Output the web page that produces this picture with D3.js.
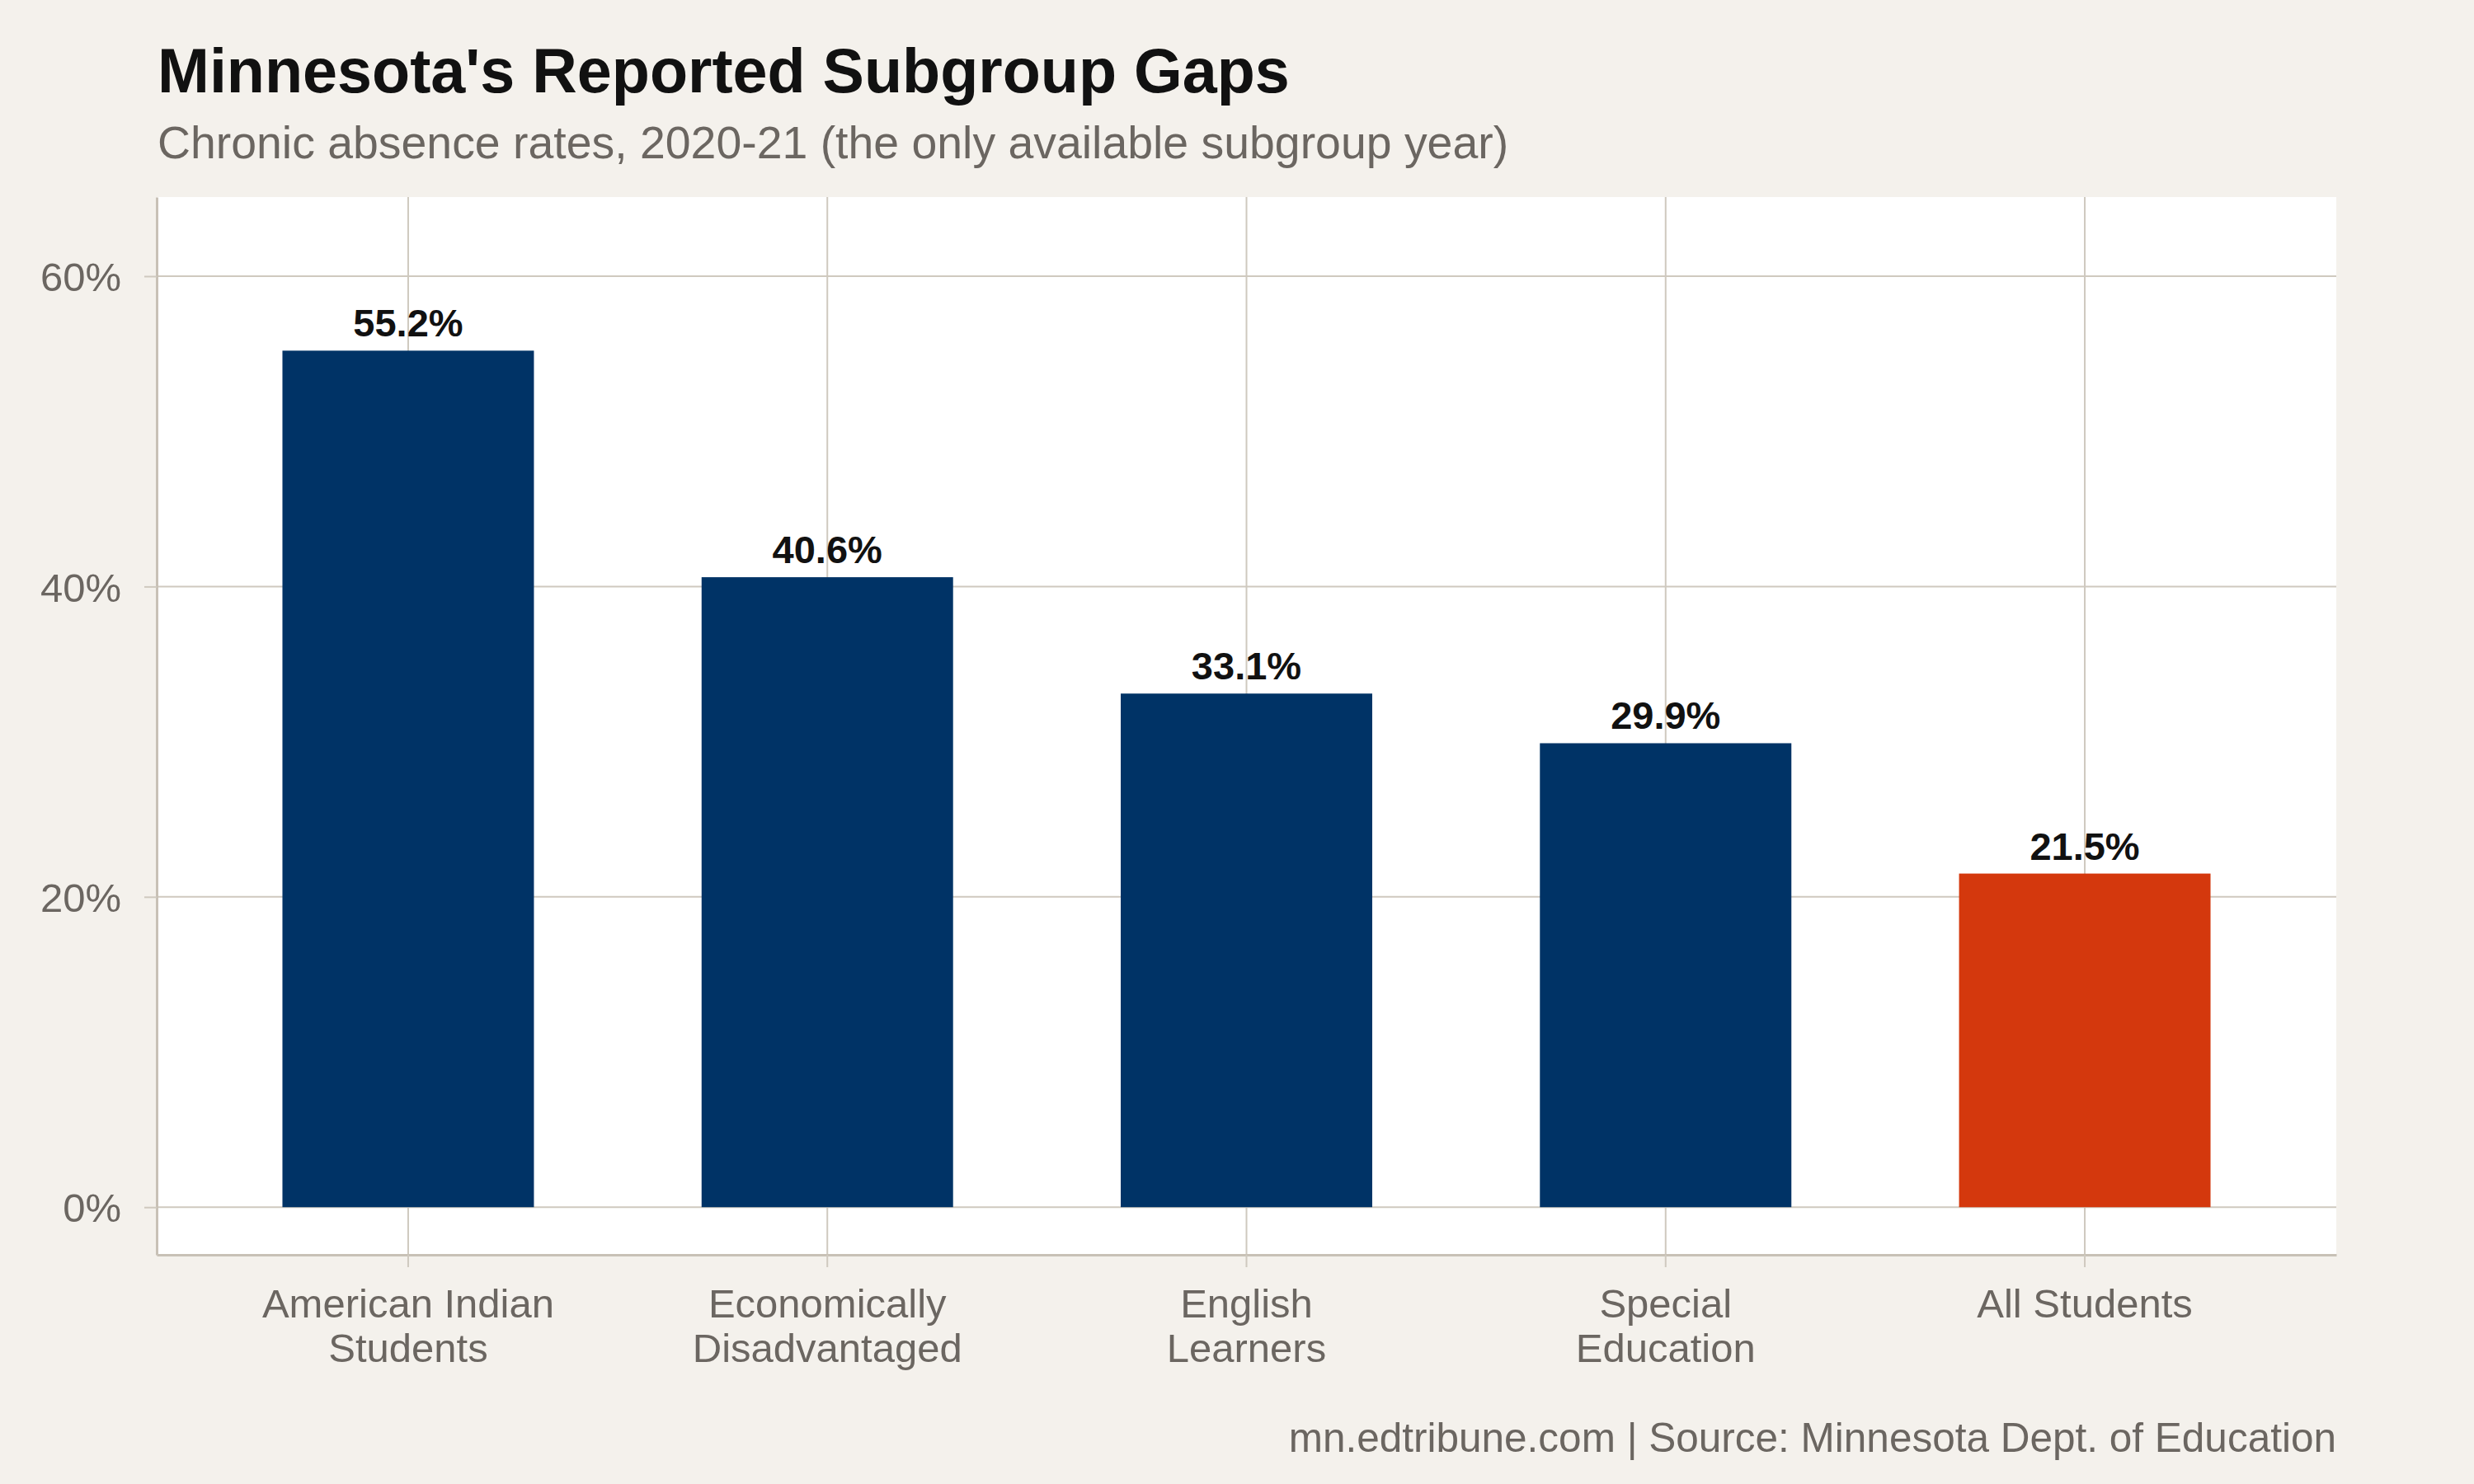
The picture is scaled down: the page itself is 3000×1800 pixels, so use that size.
<!DOCTYPE html>
<html>
<head>
<meta charset="utf-8">
<script src="https://cdn.jsdelivr.net/npm/d3@7"></script>
<style>
    body { margin: 0; background: #f4f1ec; }
    text { font-family: "Liberation Sans", Arial, Helvetica, sans-serif; }
</style>
</head>
<body>
<svg id="chart" width="3000" height="1800"></svg>
<script>
var categories = ["American Indian Students", "Economically Disadvantaged", "English Learners", "Special Education", "All Students"];
var tickLines = [["American Indian", "Students"], ["Economically", "Disadvantaged"], ["English", "Learners"], ["Special", "Education"], ["All Students"]];
var values = [55.2, 40.6, 33.1, 29.9, 21.5];
var yTicks = [0, 20, 40, 60];
var highlight = "All Students";

var title = "Minnesota's Reported Subgroup Gaps";
var subtitle = "Chronic absence rates, 2020-21 (the only available subgroup year)";
var caption = "mn.edtribune.com | Source: Minnesota Dept. of Education";

var svg = d3.select('#chart');

var width = 3000;
var height = 1800;
var margin = { top: 239, left: 190, bottom: 278, right: 167 };
var plotW = width - margin.left - margin.right;
var plotH = height - margin.top - margin.bottom;

var gridColor = "#cfc9bf";
var axisColor = "#c8c1b6";
var textGray = "#6b6661";

svg.append("rect")
    .attr("width", width)
    .attr("height", height)
    .attr("fill", "#f4f1ec");

var x = d3.scaleBand().domain(categories).range([0, plotW]).paddingInner(0.4).paddingOuter(0.3);
var y = d3.scaleLinear().domain([-3.07, 65.1]).range([plotH, 0]);

var g = svg.append("g")
    .attr("transform", "translate(" + [margin.left, margin.top] + ")");

// panel
g.append("rect")
    .attr("width", plotW)
    .attr("height", plotH)
    .attr("fill", "#ffffff");

// grid lines
g.selectAll(".hgrid")
    .data(yTicks)
    .enter().append("line")
    .attr("x1", 0)
    .attr("x2", plotW)
    .attr("y1", function (d) { return y(d); })
    .attr("y2", function (d) { return y(d); })
    .attr("stroke", gridColor)
    .attr("stroke-width", 2);

g.selectAll(".vgrid")
    .data(categories)
    .enter().append("line")
    .attr("x1", function (d) { return x(d) + x.bandwidth() / 2; })
    .attr("x2", function (d) { return x(d) + x.bandwidth() / 2; })
    .attr("y1", 0)
    .attr("y2", plotH)
    .attr("stroke", gridColor)
    .attr("stroke-width", 2);

// bars
var data = categories.map(function (c, i) { return { cat: c, value: values[i] }; });

g.selectAll(".bar")
    .data(data)
    .enter().append("rect")
    .attr("x", function (d) { return x(d.cat); })
    .attr("width", x.bandwidth())
    .attr("y", function (d) { return y(d.value); })
    .attr("height", function (d) { return y(0) - y(d.value); })
    .attr("fill", function (d) { return d.cat === highlight ? "#d4380d" : "#003366"; });

g.selectAll(".value")
    .data(data)
    .enter().append("text")
    .attr("x", function (d) { return x(d.cat) + x.bandwidth() / 2; })
    .attr("y", function (d) { return y(d.value) - 17; })
    .attr("text-anchor", "middle")
    .attr("font-size", 47)
    .attr("font-weight", "bold")
    .attr("fill", "#111111")
    .text(function (d) { return d.value.toFixed(1) + "%"; });

// axes
var yAxis = d3.axisLeft(y)
    .tickValues(yTicks)
    .tickSize(15)
    .tickSizeOuter(0)
    .tickPadding(28)
    .tickFormat(function (d) { return d + "%"; });

var yG = g.append("g").call(yAxis);
yG.selectAll(".tick line").attr("stroke", gridColor).attr("stroke-width", 2);
yG.selectAll(".tick text")
    .attr("font-size", 49)
    .attr("font-family", null)
    .attr("fill", textGray)
    .attr("dy", "0.36em");
yG.select(".domain").attr("stroke", axisColor).attr("stroke-width", 3);

var xAxis = d3.axisBottom(x)
    .tickSize(15)
    .tickSizeOuter(0)
    .tickFormat("");

var xG = g.append("g")
    .attr("transform", "translate(0," + plotH + ")")
    .call(xAxis);
xG.selectAll(".tick line").attr("stroke", gridColor).attr("stroke-width", 2);
xG.select(".domain").attr("stroke", axisColor).attr("stroke-width", 3);

xG.selectAll(".tick text").remove();
xG.selectAll(".tick").each(function (d, i) {
    var t = d3.select(this).append("text")
        .attr("text-anchor", "middle")
        .attr("font-size", 49)
        .attr("fill", textGray);
    tickLines[i].forEach(function (line, j) {
        t.append("tspan")
            .attr("x", 0)
            .attr("y", 76 + j * 54)
            .text(line);
    });
});

// titles
svg.append("text")
    .attr("x", 191)
    .attr("y", 112)
    .attr("font-size", 75.5)
    .attr("font-weight", "bold")
    .attr("fill", "#111111")
    .text(title);

svg.append("text")
    .attr("x", 191)
    .attr("y", 192)
    .attr("font-size", 55.4)
    .attr("fill", textGray)
    .text(subtitle);

svg.append("text")
    .attr("x", margin.left + plotW)
    .attr("y", 1761)
    .attr("text-anchor", "end")
    .attr("font-size", 49.5)
    .attr("fill", textGray)
    .text(caption);
</script>
</body>
</html>
